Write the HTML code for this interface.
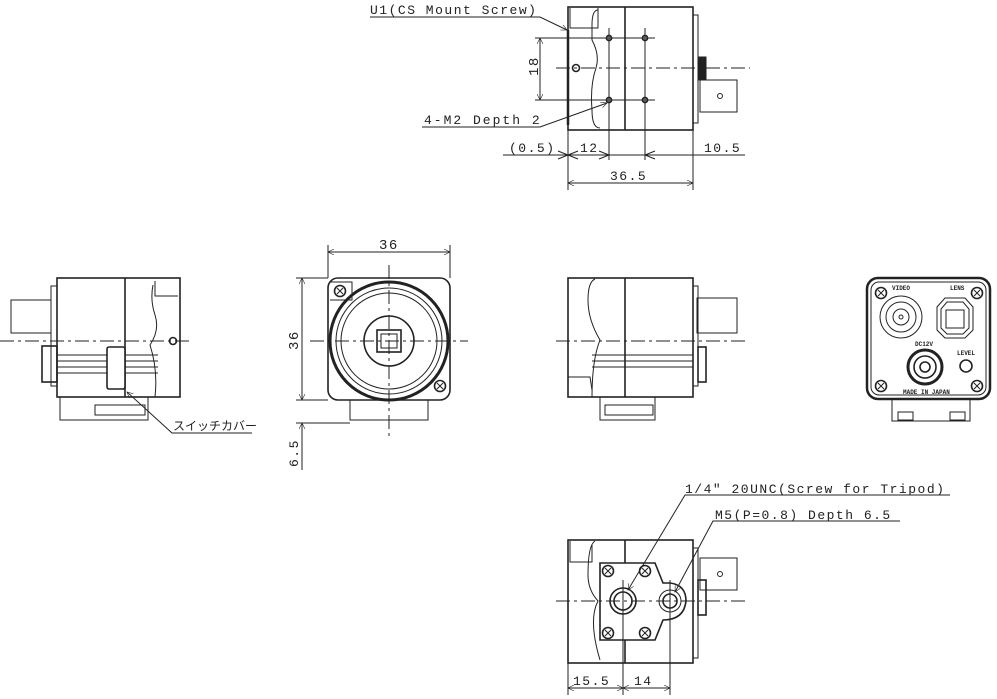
<!DOCTYPE html>
<html><head><meta charset="utf-8"><style>
html,body{margin:0;padding:0;background:#fff;width:997px;height:699px;overflow:hidden}
svg{display:block}
text{font-family:"Liberation Mono","Noto Sans CJK JP",monospace;fill:#222}
.ls{letter-spacing:1.5px}
</style></head><body>
<svg width="997" height="699" viewBox="0 0 997 699" xmlns="http://www.w3.org/2000/svg">
<defs>
<marker id="a" viewBox="0 0 10 10" refX="10" refY="5" markerWidth="9" markerHeight="6" orient="auto-start-reverse" markerUnits="userSpaceOnUse"><path d="M0,0 L10,5 L0,10" fill="none" stroke="#222" stroke-width="1"/></marker>
<g id="scr"><circle r="5.5" fill="none" stroke="#222" stroke-width="1.6"/><path d="M-3,-3 L3,3 M-3,3 L3,-3" stroke="#222" stroke-width="1"/></g>
</defs>
<g fill="none" stroke="#222" stroke-width="1">

<!-- TOP VIEW -->
<rect x="568" y="7" width="125" height="123" stroke-width="1.6"/>
<line x1="625" y1="7" x2="625" y2="130" stroke-width="1.6"/>
<path d="M570,8 L570,28 L598,28 L598,8"/>
<path d="M598,10 Q592,10 592,25 L592,40 Q600,55 596,68 Q590,85 592,110 Q592,128 600,128"/>
<line x1="568" y1="30" x2="568" y2="125" stroke-width="2.5"/>
<rect x="693" y="15" width="5" height="108"/>
<rect x="698" y="57" width="8" height="23" fill="#222"/>
<rect x="700" y="80" width="37" height="32"/>
<circle cx="720" cy="96" r="2.5"/>
<line x1="556" y1="68" x2="750" y2="68" stroke-dasharray="14,4,3,4"/>
<circle cx="576" cy="68" r="3.5" stroke-width="1.6"/>
<g stroke-width="1.8"><circle cx="609" cy="38" r="2.5"/><circle cx="645" cy="38" r="2.5"/><circle cx="609" cy="100" r="2.5"/><circle cx="645" cy="100" r="2.5"/></g>
<line x1="535" y1="38" x2="655" y2="38"/><line x1="535" y1="100" x2="655" y2="100"/>
<line x1="540" y1="38" x2="540" y2="100" marker-start="url(#a)" marker-end="url(#a)"/>
<line x1="609" y1="28" x2="609" y2="160"/><line x1="645" y1="28" x2="645" y2="160"/>
<line x1="568" y1="130" x2="568" y2="190"/><line x1="693" y1="130" x2="693" y2="190"/>
<line x1="503" y1="155" x2="745" y2="155"/>
<path d="M558,151 L568,155 L558,159 M578,151 L568,155 L578,159 M599,151 L609,155 L599,159 M655,151 L645,155 L655,159"/>
<line x1="568" y1="183" x2="693" y2="183" marker-start="url(#a)" marker-end="url(#a)"/>
<path d="M370,17 L540,17 L567,30" marker-end="url(#a)"/>
<path d="M422,127 L540,127 L607,103" marker-end="url(#a)"/>

<!-- LEFT SIDE VIEW -->
<rect x="57" y="278" width="123" height="119" stroke-width="1.6"/>
<line x1="125" y1="278" x2="125" y2="397" stroke-width="1.6"/>
<path d="M155,281 L155,296 L178,296"/>
<path d="M153,285 Q150,300 155,315 Q160,330 150,345 Q158,370 155,397"/>
<rect x="51" y="286" width="6" height="100"/>
<rect x="11" y="300" width="40" height="33"/>
<rect x="42" y="346" width="15" height="36" fill="none" stroke-width="1.6"/>
<g stroke-width="1"><line x1="57" y1="355" x2="158" y2="355"/><line x1="57" y1="361" x2="158" y2="361"/><line x1="57" y1="367" x2="158" y2="367"/><line x1="57" y1="373" x2="158" y2="373"/></g>
<rect x="107" y="347" width="18" height="42" rx="2" fill="#fff" stroke-width="1.6"/>
<path d="M60,397 L60,420 L148,420 L148,397"/>
<rect x="95" y="405" width="50" height="10"/>
<line x1="0" y1="341" x2="192" y2="341" stroke-dasharray="14,4,3,4"/>
<circle cx="173" cy="341" r="3.5" stroke-width="1.6"/>
<path d="M252,433 L172,433 L127,392" marker-end="url(#a)"/>

<!-- FRONT VIEW -->
<rect x="328" y="278" width="122" height="122" rx="10" stroke-width="1.6"/>
<circle cx="389" cy="341" r="59" fill="#fff" stroke-width="3"/>
<circle cx="389" cy="341" r="53"/>
<circle cx="389" cy="341" r="48"/>
<circle cx="389" cy="341" r="25" stroke-width="1.6"/>
<rect x="377" y="330" width="24" height="22" stroke-width="1.6"/>
<rect x="381" y="334" width="16" height="14"/>
<path d="M330,282 L352,282 L352,300 L330,300"/>
<use href="#scr" x="340" y="291"/>
<use href="#scr" x="440" y="386"/>
<path d="M350,400 L350,420 L428,420 L428,400"/>
<line x1="310" y1="341" x2="468" y2="341" stroke-dasharray="14,4,3,4"/>
<line x1="389" y1="265" x2="389" y2="438" stroke-dasharray="14,4,3,4"/>
<line x1="328" y1="245" x2="328" y2="278"/><line x1="450" y1="245" x2="450" y2="278"/>
<line x1="328" y1="252" x2="450" y2="252" marker-start="url(#a)" marker-end="url(#a)"/>
<line x1="296" y1="278" x2="328" y2="278"/><line x1="296" y1="400" x2="328" y2="400"/><line x1="296" y1="423" x2="350" y2="423"/>
<line x1="302" y1="278" x2="302" y2="400" marker-start="url(#a)" marker-end="url(#a)"/>
<line x1="302" y1="423" x2="302" y2="470" marker-start="url(#a)"/>

<!-- RIGHT SIDE VIEW -->
<rect x="568" y="278" width="125" height="119" stroke-width="1.6"/>
<line x1="625" y1="278" x2="625" y2="397" stroke-width="1.6"/>
<path d="M595,279 Q588,282 588,300 Q588,320 600,340 Q592,360 592,397"/>
<rect x="693" y="286" width="5" height="100"/>
<rect x="697" y="298" width="40" height="35"/>
<rect x="698" y="347" width="8" height="35" stroke-width="1.6"/>
<g><line x1="592" y1="355" x2="693" y2="355"/><line x1="592" y1="361" x2="693" y2="361"/><line x1="592" y1="367" x2="693" y2="367"/></g>
<path d="M568,377 L590,377 L592,390"/>
<path d="M600,397 L600,420 L655,420 L655,397"/>
<rect x="605" y="405" width="48" height="10"/>
<line x1="556" y1="341" x2="745" y2="341" stroke-dasharray="14,4,3,4"/>

<!-- BACK VIEW -->
<rect x="867" y="278" width="123" height="121" rx="11" stroke-width="2.5"/>
<rect x="871" y="282" width="115" height="113" rx="8"/>
<circle cx="901" cy="317" r="21"/><circle cx="901" cy="317" r="15"/><circle cx="901" cy="317" r="8"/><circle cx="901" cy="317" r="2"/>
<path d="M945,298 L965,298 L973,307 L973,330 L965,338 L945,338 L937,330 L937,307 Z"/>
<path d="M947,302 L963,302 L969,309 L969,328 L963,334 L947,334 L941,328 L941,309 Z"/>
<rect x="946" y="310" width="18" height="18"/>
<circle cx="925" cy="367" r="17" stroke-width="3"/><circle cx="925" cy="367" r="11" stroke-width="1.6"/><circle cx="925" cy="367" r="5" stroke-width="1.6"/>
<circle cx="966" cy="366" r="6" stroke-width="1.6"/>
<use href="#scr" x="881" y="293"/><use href="#scr" x="977" y="293"/><use href="#scr" x="881" y="386"/><use href="#scr" x="977" y="386"/>
<path d="M892,399 L892,421 L970,421 L970,399"/>
<rect x="898" y="412" width="15" height="8"/><rect x="950" y="412" width="15" height="8"/>

<!-- BOTTOM VIEW -->
<rect x="568" y="540" width="125" height="123" stroke-width="1.6"/>
<line x1="625" y1="540" x2="625" y2="663" stroke-width="1.6"/>
<path d="M570,541 L570,562 L592,562 L592,545"/>
<path d="M595,541 Q588,545 588,575 Q588,590 598,601 Q588,620 600,660"/>
<rect x="693" y="548" width="5" height="110"/>
<rect x="698" y="580" width="8" height="35" stroke-width="1.6"/>
<rect x="700" y="558" width="37" height="32"/>
<circle cx="720" cy="574" r="2.5"/>
<path d="M600,563 L655,563 L663,583 L670,583 Q686,585 686,601 Q684,620 663,620 L655,640 L600,640 Z" fill="#fff" stroke-width="1.6"/>
<circle cx="623" cy="601" r="13" stroke-width="1.6"/><circle cx="623" cy="601" r="9" stroke-width="1.6"/>
<circle cx="670" cy="601" r="11"/><circle cx="670" cy="601" r="7" stroke-width="1.6"/>
<use href="#scr" x="608" y="571"/><use href="#scr" x="645" y="571"/><use href="#scr" x="608" y="633"/><use href="#scr" x="645" y="633"/>
<line x1="556" y1="601" x2="745" y2="601" stroke-dasharray="14,4,3,4"/>
<line x1="623" y1="580" x2="623" y2="695"/><line x1="670" y1="580" x2="670" y2="695"/><line x1="568" y1="663" x2="568" y2="695"/>
<line x1="568" y1="688" x2="623" y2="688" marker-start="url(#a)" marker-end="url(#a)"/>
<line x1="623" y1="688" x2="670" y2="688" marker-start="url(#a)" marker-end="url(#a)"/>
<path d="M950,495 L685,495 L628,590" marker-end="url(#a)"/>
<path d="M900,521 L713,521 L675,592" marker-end="url(#a)"/>
</g>

<g font-size="13" class="ls">
<text x="370" y="14">U1(CS Mount Screw)</text>
<text x="424" y="124" style="letter-spacing:2px">4-M2 Depth 2</text>
<text x="509" y="152">(0.5)</text>
<text x="580" y="152">12</text>
<text x="704" y="152">10.5</text>
<text x="610" y="180">36.5</text>
<text x="379" y="249" font-family="Liberation Sans, sans-serif" font-size="14">36</text>
<text transform="translate(298,350) rotate(-90)" font-family="Liberation Sans, sans-serif" font-size="14">36</text>
<text transform="translate(298,467) rotate(-90)">6.5</text>
<text transform="translate(538,76) rotate(-90)" font-family="Liberation Sans, sans-serif" font-size="14">18</text>
<text x="173" y="430" font-size="12" font-family="Noto Sans CJK JP, sans-serif" style="letter-spacing:0">スイッチカバー</text>
<text x="685" y="493">1/4" 20UNC(Screw for Tripod)</text>
<text x="715" y="519">M5(P=0.8) Depth 6.5</text>
<text x="573" y="685">15.5</text>
<text x="634" y="685">14</text>
</g>
<g font-size="6" font-family="Liberation Sans, sans-serif" font-weight="bold">
<text x="892" y="290">VIDEO</text><text x="950" y="290">LENS</text>
<text x="915" y="346">DC12V</text><text x="957" y="355">LEVEL</text>
<text x="903" y="394">MADE IN JAPAN</text>
</g>
</svg>
</body></html>
